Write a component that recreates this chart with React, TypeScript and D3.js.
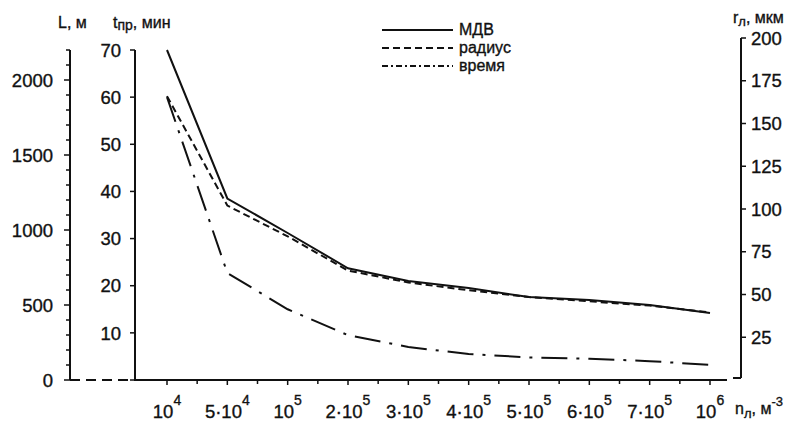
import React, { useEffect, useRef } from 'react';
import * as d3 from 'd3';

// n_л categories on the bottom axis (equally spaced)
const categories = ['1e4', '5e4', '1e5', '2e5', '3e5', '4e5', '5e5', '6e5', '7e5', '1e6'];
const tickMantissa = ['', '5·', '', '2·', '3·', '4·', '5·', '6·', '7·', ''];
const tickExponent = ['4', '4', '5', '5', '5', '5', '5', '5', '5', '6'];

// МДВ, L (м)
const mdv = [2200, 1210, 980, 745, 660, 613, 553, 533, 500, 447];
// радиус, r_л (мкм)
const radius = [166, 102, 84, 64, 57, 52.5, 48.5, 46, 43.5, 39.5];
// время, t_пр (мин)
const time = [60, 22.7, 15, 9.5, 7, 5.5, 4.8, 4.5, 4.0, 3.2];

const lTicks = [0, 500, 1000, 1500, 2000];
const tTicks = [10, 20, 30, 40, 50, 60, 70];
const rTicks = [25, 50, 75, 100, 125, 150, 175, 200];

const legendItems = [
    { label: 'МДВ', dash: null },
    { label: 'радиус', dash: '7,4' },
    { label: 'время', dash: '6,3,2,3' },
];

export default function App() {
    const svgRef = useRef<SVGSVGElement>(null);

    useEffect(() => {
        const width = 804;
        const height = 421;
        const font = '"Liberation Sans", Arial, sans-serif';
        const ink = '#111';

        const svg = d3.select(svgRef.current)
            .attr('width', width)
            .attr('height', height);
        svg.selectAll('*').remove();

        const x = d3.scalePoint<string>().domain(categories).range([167, 710]);
        const yL = d3.scaleLinear().domain([0, 2200]).range([380, 50]);
        const yT = d3.scaleLinear().domain([0, 70]).range([380, 50]);
        const yR = d3.scaleLinear().domain([0, 200]).range([380, 38]);

        // texts get a thin outline so they look as heavy as the scan
        const g = svg.append('g').attr('font-family', font).attr('fill', ink);
        const label = (sel: any) => sel.attr('stroke', ink).attr('stroke-width', 0.35);

        // L axis
        const lx = 70;
        g.append('line').attr('x1', lx).attr('x2', lx).attr('y1', yL(0)).attr('y2', yL(2200))
            .attr('stroke', ink).attr('stroke-width', 2);
        d3.range(0, 2201, 100).forEach(v => {
            const major = v % 500 === 0;
            g.append('line').attr('x1', lx - (major ? 6 : 4)).attr('x2', lx)
                .attr('y1', yL(v)).attr('y2', yL(v)).attr('stroke', ink).attr('stroke-width', 1.5);
        });
        lTicks.forEach(v => {
            label(g.append('text').attr('x', 53).attr('y', yL(v)).attr('dy', '0.36em')
                .attr('text-anchor', 'end').attr('font-size', 18.5).text(v));
        });

        // dashed baseline between the two left axes
        g.append('line').attr('x1', lx).attr('x2', 135).attr('y1', 380).attr('y2', 380)
            .attr('stroke', ink).attr('stroke-width', 2).attr('stroke-dasharray', '10,6');

        // t axis
        const tx = 135;
        g.append('line').attr('x1', tx).attr('x2', tx).attr('y1', yT(0)).attr('y2', yT(70))
            .attr('stroke', ink).attr('stroke-width', 2);
        d3.range(0, 71, 10).forEach(v => {
            g.append('line').attr('x1', tx - 5).attr('x2', tx)
                .attr('y1', yT(v)).attr('y2', yT(v)).attr('stroke', ink).attr('stroke-width', 1.5);
        });
        tTicks.forEach(v => {
            label(g.append('text').attr('x', 121).attr('y', yT(v)).attr('dy', '0.36em')
                .attr('text-anchor', 'end').attr('font-size', 18.5).text(v));
        });

        // bottom axis
        g.append('line').attr('x1', tx).attr('x2', 727).attr('y1', 380).attr('y2', 380)
            .attr('stroke', ink).attr('stroke-width', 2);
        const step = x.step();
        categories.forEach((c, i) => {
            const px = x(c) as number;
            g.append('line').attr('x1', px).attr('x2', px).attr('y1', 380).attr('y2', 385)
                .attr('stroke', ink).attr('stroke-width', 1.5);
            if (i < categories.length - 1) {
                g.append('line').attr('x1', px + step / 2).attr('x2', px + step / 2)
                    .attr('y1', 380).attr('y2', 384).attr('stroke', ink).attr('stroke-width', 1.5);
            }
            const t = label(g.append('text').attr('x', px).attr('y', 418)
                .attr('text-anchor', 'middle').attr('font-size', 18.5));
            t.append('tspan').text(tickMantissa[i] + '10');
            t.append('tspan').attr('dy', -13).attr('font-size', 14).text(tickExponent[i]);
        });
        const nl = label(g.append('text').attr('x', 735).attr('y', 414).attr('font-size', 16));
        nl.append('tspan').text('n');
        nl.append('tspan').attr('dy', 4).attr('font-size', 13).text('л');
        nl.append('tspan').attr('dy', -4).text(', м');
        nl.append('tspan').attr('dy', -8).attr('font-size', 13).text('-3');

        // right r axis
        const rx = 741;
        g.append('line').attr('x1', rx).attr('x2', rx).attr('y1', yR(200)).attr('y2', 378)
            .attr('stroke', ink).attr('stroke-width', 2);
        g.append('line').attr('x1', 733).attr('x2', rx).attr('y1', 378).attr('y2', 378)
            .attr('stroke', ink).attr('stroke-width', 2);
        rTicks.forEach(v => {
            g.append('line').attr('x1', rx).attr('x2', rx + 5)
                .attr('y1', yR(v)).attr('y2', yR(v)).attr('stroke', ink).attr('stroke-width', 1.5);
            label(g.append('text').attr('x', 751).attr('y', yR(v)).attr('dy', '0.36em')
                .attr('font-size', 18.5).text(v));
        });

        // axis titles
        const tl = label(g.append('text').attr('x', 58).attr('y', 28).attr('font-size', 16));
        tl.append('tspan').text('L, м');
        const tt = label(g.append('text').attr('x', 113).attr('y', 28).attr('font-size', 16));
        tt.append('tspan').text('t');
        tt.append('tspan').attr('dy', 2).attr('font-size', 14).text('пр');
        tt.append('tspan').attr('dy', -2).text(', мин');
        const tr = label(g.append('text').attr('x', 733).attr('y', 23).attr('font-size', 16));
        tr.append('tspan').text('r');
        tr.append('tspan').attr('dy', 3).attr('font-size', 13).text('л');
        tr.append('tspan').attr('dy', -3).text(', мкм');

        // curves
        const line = (ys: (v: number) => number, data: number[]) =>
            d3.line<number>()
                .x((_, i) => x(categories[i]) as number)
                .y(d => ys(d))(data);

        g.append('path').attr('d', line(yL, mdv)).attr('fill', 'none')
            .attr('stroke', ink).attr('stroke-width', 2);
        g.append('path').attr('d', line(yR, radius)).attr('fill', 'none')
            .attr('stroke', ink).attr('stroke-width', 2).attr('stroke-dasharray', '7,4');
        g.append('path').attr('d', line(yT, time)).attr('fill', 'none')
            .attr('stroke', ink).attr('stroke-width', 2).attr('stroke-dasharray', '26,9,3,9');

        // legend
        legendItems.forEach((item, i) => {
            const ly = 30 + i * 18;
            const l = g.append('line').attr('x1', 382).attr('x2', 453).attr('y1', ly).attr('y2', ly)
                .attr('stroke', ink).attr('stroke-width', 2);
            if (item.dash) l.attr('stroke-dasharray', item.dash);
            label(g.append('text').attr('x', 459).attr('y', ly + 5).attr('font-size', 16).text(item.label));
        });
    }, []);

    return (
        <svg ref={svgRef} style={{ position: 'absolute', left: 0, top: 0, background: '#fff' }}></svg>
    );
}
